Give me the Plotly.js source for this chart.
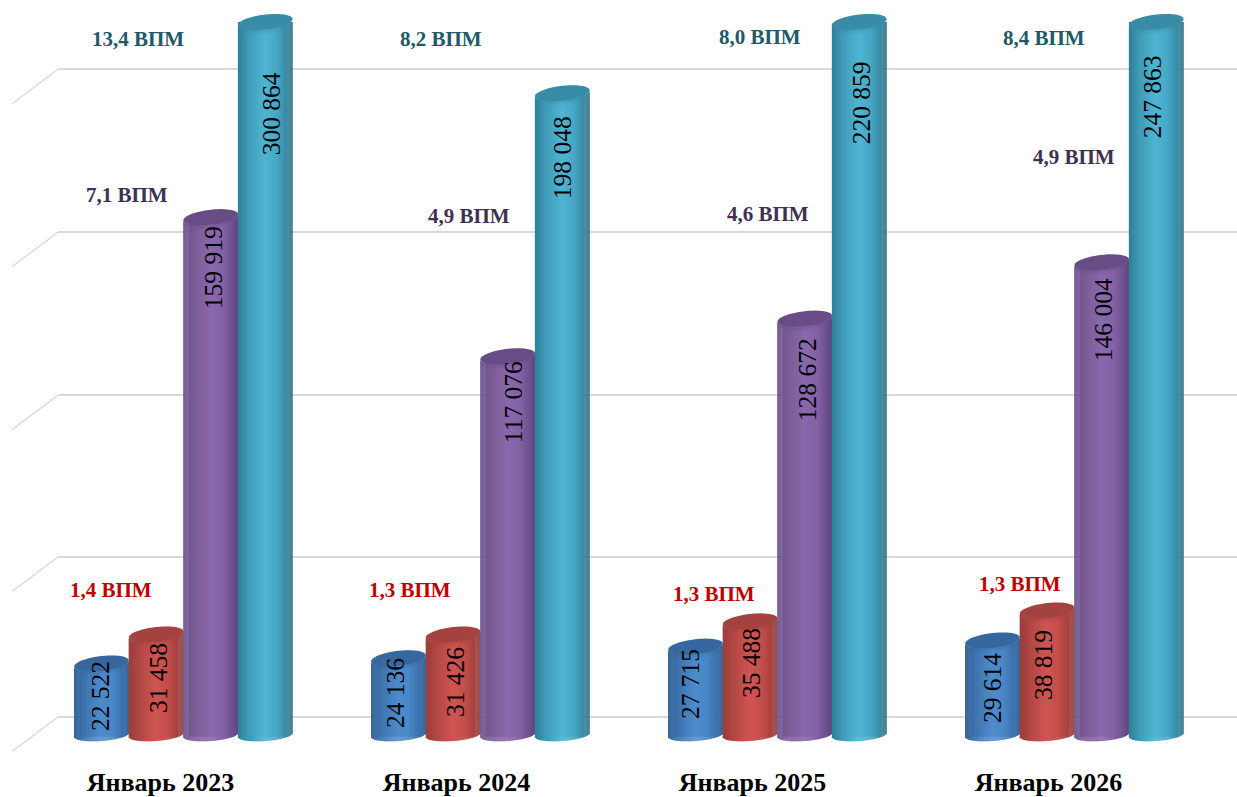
<!DOCTYPE html>
<html><head><meta charset="utf-8">
<script src="https://cdn.plot.ly/plotly-3.0.1.min.js"></script>
<style>html,body{margin:0;padding:0;background:#fff}#c{width:1237px;height:797px}</style>
</head><body><div id="c"></div>
<script>
const categories = ['Январь 2023','Январь 2024','Январь 2025','Январь 2026'];
const seriesA = [22522, 24136, 27715, 29614];
const seriesB = [31458, 31426, 35488, 38819];
const seriesC = [159919, 117076, 128672, 146004];
const seriesD = [300864, 198048, 220859, 247863];
const vpmB = ['1,4 ВПМ','1,3 ВПМ','1,3 ВПМ','1,3 ВПМ'];
const vpmC = ['7,1 ВПМ','4,9 ВПМ','4,6 ВПМ','4,9 ВПМ'];
const vpmD = ['13,4 ВПМ','8,2 ВПМ','8,0 ВПМ','8,4 ВПМ'];

// ---- layout and style tables (not data) ----
const W = 1237, H = 797, plotL = 58, plotT = 21.7, plotB = 745;
const pxPerUnitY = 3.25/1000, groupPx = 297, cylPx = 54.6;
const yRange = [-(plotB-736.7)/pxPerUnitY, 220000];
const firstCenterPx = 183.4;
const xRange = [(plotL-firstCenterPx)/groupPx, (W-firstCenterPx)/groupPx];
const cylOffsets = [-1.5,-0.5,0.5,1.5].map(k => k*cylPx/groupPx);
const allSeries = [seriesA, seriesB, seriesC, seriesD];
const palette = [
  {stops:['#2f5f97','#3b70ab','#4f8ccc','#4a86c4','#2f6099'], cap:'#36689f'},
  {stops:['#953b38','#b04744','#d05552','#c24e4a','#8f3835'], cap:'#a3423f'},
  {stops:['#64498a','#77598f','#8b69ae','#8563a6','#5f4880'], cap:'#674c86'},
  {stops:['#2f7f99','#3f9ab6','#4fb5d3','#45a5c2','#2c6f85'], cap:'#388ca7'}
];
const yPx = v => 736.7 - v*pxPerUnitY;
const pxToData = p => (736.7 - p)/pxPerUnitY;
const paperX = p => (p-plotL)/(W-plotL);
const paperY = p => (plotB-p)/(plotB-plotT);
const hex = s => [1,3,5].map(i => parseInt(s.substr(i,2),16));
function shade(stops,u){
  const pos=[0,0.18,0.5,0.72,1];
  let i=0; while(i<3 && u>pos[i+1]) i++;
  const t=(u-pos[i])/(pos[i+1]-pos[i]), a=hex(stops[i]), b=hex(stops[i+1]);
  return 'rgb('+a.map((c,k)=>Math.round(c+(b[k]-c)*t)).join(',')+')';
}
// tilted-ellipse edge, in pixels, at a horizontal offset dx (-1..1)
const capH=7.5, capTilt=3, botCy=735, botH=6, botTilt=2;
const arcLow = (cy,h,tilt,d) => cy + h*Math.sqrt(Math.max(0,1-d*d)) - tilt*d;

const traces = [];
allSeries.forEach((vals,s) => {
  traces.push({type:'bar', x:categories.map((_,g)=>g+cylOffsets[s]), y:vals,
    width:cylPx*0.8/groupPx, marker:{color:palette[s].stops[2]}, hoverinfo:'skip', showlegend:false, name:'s'+s});
});
const nStrips = 54;
const sx=[],sy=[],sb=[],sw=[],sc=[];
categories.forEach((_,g) => allSeries.forEach((vals,s) => {
  for(let k=0;k<nStrips;k++){
    const u=(k+0.5)/nStrips, d=2*u-1;
    const topPx = arcLow(yPx(vals[g]),capH,capTilt,d);
    const baseV = pxToData(arcLow(botCy,botH,botTilt,d));
    sx.push(g+cylOffsets[s]+d*cylPx/2/groupPx);
    sb.push(baseV);
    sy.push(pxToData(topPx)-baseV);
    sw.push((cylPx/nStrips+0.3)/groupPx);
    sc.push(shade(palette[s].stops,u));
  }
}));
traces.push({type:'bar', x:sx, y:sy, base:sb, width:sw, marker:{color:sc,line:{width:0}}, hoverinfo:'skip', showlegend:false, name:'shading'});

const shapes = [];
function capPath(cx,cy){
  let d='';
  for(let a=0;a<=48;a++){
    const t=a/48*2*Math.PI, dd=Math.cos(t);
    const px=cx+dd*cylPx/2/groupPx, py=cy+capH*Math.sin(t)-capTilt*dd;
    d+=(a?'L':'M')+px+','+paperY(py);
  }
  return d+'Z';
}
categories.forEach((_,g) => allSeries.forEach((vals,s) => {
  const cy = yPx(Math.min(vals[g], yRange[1])), cx = g+cylOffsets[s];
  // soft shadow just under the lid, then the lid itself
  [[4.5,0.12],[2.5,0.22]].forEach(([dy,op]) => shapes.push({type:'path', xref:'x', yref:'paper', path:capPath(cx,cy+dy),
     fillcolor:palette[s].cap, opacity:op, line:{width:0}, layer:'above'}));
  shapes.push({type:'path', xref:'x', yref:'paper', path:capPath(cx,cy), fillcolor:palette[s].cap, line:{width:0}, layer:'above'});
}));
const gridPx = [717,557,395,232,69];
gridPx.forEach(p => shapes.push({type:'line',xref:'paper',yref:'paper',layer:'below',
  x0:0,y0:paperY(p),x1:paperX(12),y1:paperY(p+34.5),line:{color:'#d9d9d9',width:1.3}}));

const valuePos = [
 [[100,696],[158,678],[213,268],[271,114]],
 [[395,693],[455,682],[513,402],[562,158]],
 [[690,684],[751,663],[807,380],[861,103]],
 [[992,688],[1043,665],[1103,320],[1152,97]]
];
const vpmPos = {
 B:[[111,590],[410,590],[714,594],[1020,584]],
 C:[[127,195],[469,216],[768,214],[1074,157]],
 D:[[138,39],[441,39],[760,37],[1044,38]]
};
const fmt = v => String(v).replace(/\B(?=(\d{3})+$)/g,' ');
const serif = 'Liberation Serif, Times New Roman, serif';
const annotations = [];
categories.forEach((_,g) => allSeries.forEach((vals,s) => {
  annotations.push({xref:'paper',yref:'paper',x:paperX(valuePos[g][s][0]),y:paperY(valuePos[g][s][1]),
    text:fmt(vals[g]),textangle:-90,showarrow:false,xanchor:'center',yanchor:'middle',
    font:{family:serif,size:25.5,color:'#000'}});
}));
[[vpmB,vpmPos.B,'#c00000'],[vpmC,vpmPos.C,'#403152'],[vpmD,vpmPos.D,'#215968']].forEach(([txt,pos,col]) => {
  txt.forEach((t,g) => annotations.push({xref:'paper',yref:'paper',x:paperX(pos[g][0]),y:paperY(pos[g][1]),
    text:'<b>'+t+'</b>',showarrow:false,xanchor:'center',yanchor:'middle',
    font:{family:serif,size:21,color:col}}));
});

Plotly.newPlot('c', traces, {
  width:W, height:H, autosize:false, barmode:'overlay', showlegend:false,
  paper_bgcolor:'#fff', plot_bgcolor:'rgba(0,0,0,0)', hovermode:false,
  margin:{l:plotL,r:0,t:plotT,b:H-plotB,pad:0},
  xaxis:{type:'linear',range:xRange,tickmode:'array',tickvals:[0,0.9966,1.9933,2.99],ticktext:categories.map(c=>'<b>'+c+'</b>'),
    showgrid:false,zeroline:false,showline:false,ticks:'',ticklabelstandoff:19,ticklabelshift:-23,
    tickfont:{family:serif,size:26,color:'#000'},automargin:false},
  yaxis:{range:yRange,tickmode:'array',tickvals:gridPx.map(pxToData),ticktext:gridPx.map(()=>''),showticklabels:false,showgrid:true,gridcolor:'#d9d9d9',gridwidth:2,
    zeroline:false,showline:false,ticks:'',automargin:false},
  shapes, annotations
},{displayModeBar:false,staticPlot:true});
</script></body></html>
